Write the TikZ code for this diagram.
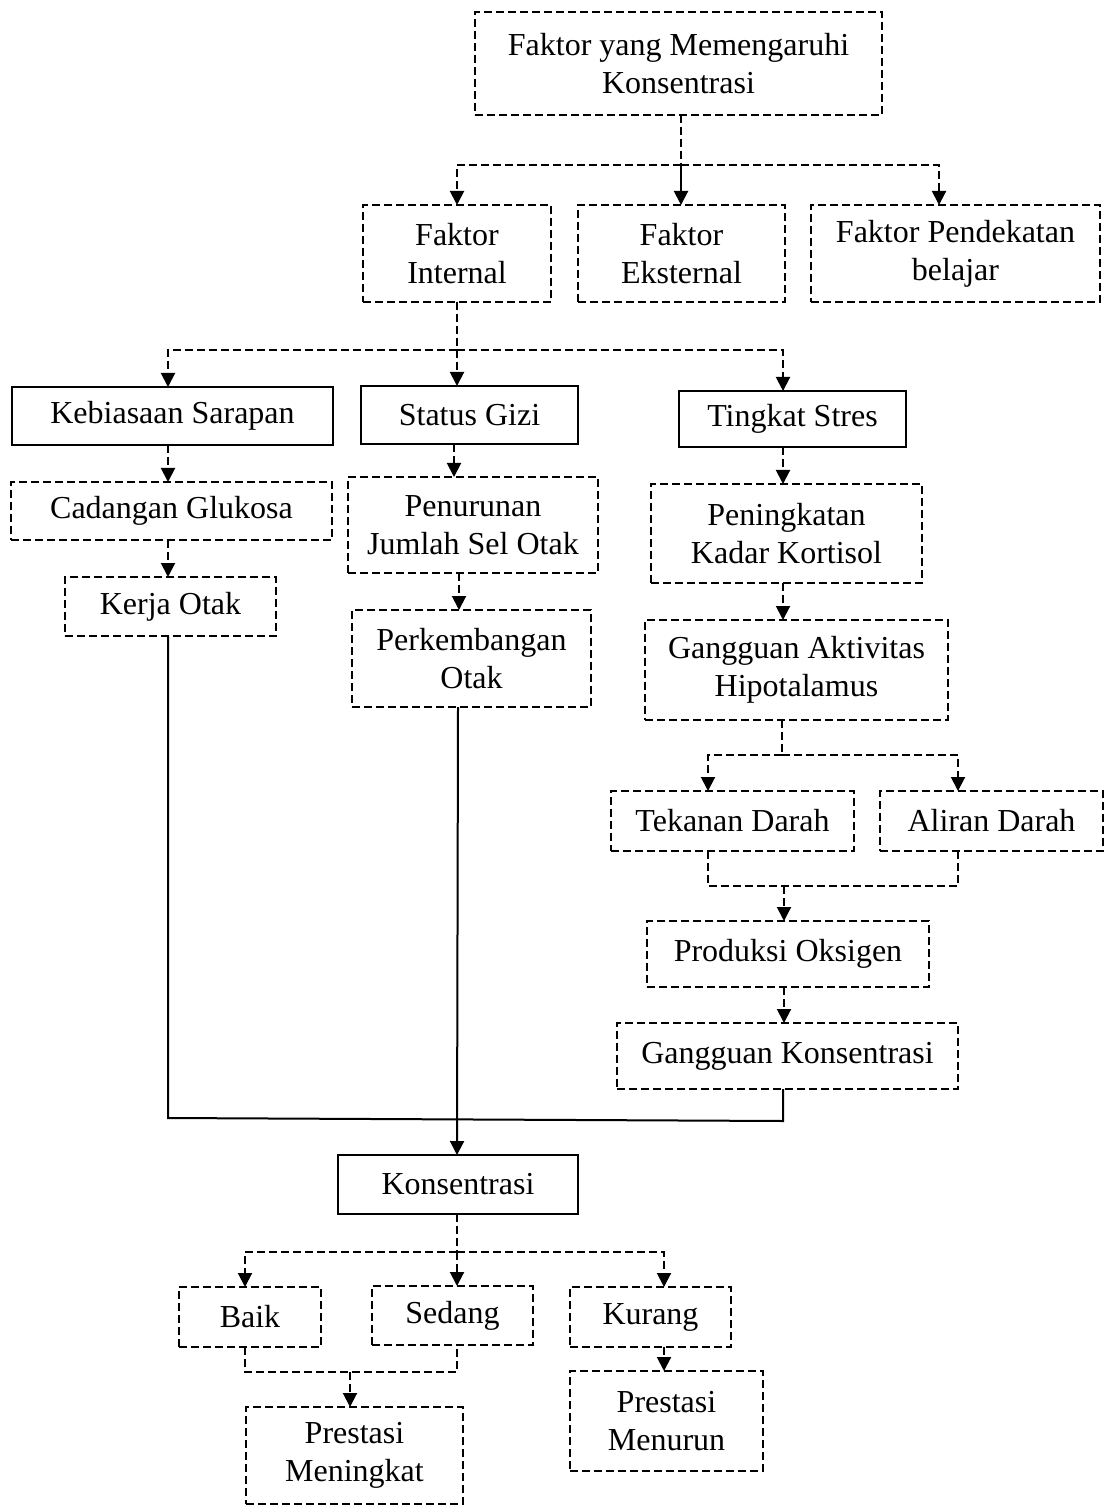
\documentclass[tikz,border=0pt]{standalone}
\usepackage{fontspec}
\setmainfont{Liberation Serif}
\usetikzlibrary{arrows.meta}
\begin{document}
\begin{tikzpicture}[x=0.5pt,y=-0.5pt,
  every node/.style={font=\fontsize{16}{19}\selectfont, align=center, inner sep=0pt, outer sep=0pt},
  dbox/.style={draw, line width=1pt, dash pattern=on 4pt off 2pt, rectangle},
  sbox/.style={draw, line width=1pt, rectangle},
  dline/.style={line width=1pt, dash pattern=on 4pt off 2pt},
  sline/.style={line width=1pt},
  tip/.style={-{Triangle[length=7pt,width=7pt]}}
]
\useasboundingbox (0,0) rectangle (1106,1507);
% nodes
\node[dbox, minimum width=203.5pt, minimum height=51.5pt] (top) at (678.5,63.5) {Faktor yang Memengaruhi\\Konsentrasi};
\node[dbox, minimum width=94pt, minimum height=48.5pt] (fint) at (457,253.5) {Faktor\\Internal};
\node[dbox, minimum width=103.5pt, minimum height=48.5pt] (fext) at (681.5,253.5) {Faktor\\Eksternal};
\node[dbox, minimum width=144.5pt, minimum height=48.5pt] (fpen) at (955.5,253.5) {Faktor Pendekatan\\belajar};
\node[sbox, minimum width=160.5pt, minimum height=29pt] (kebi) at (172.5,416) {Kebiasaan Sarapan};
\node[sbox, minimum width=108.5pt, minimum height=29pt] (gizi) at (469.5,415) {Status Gizi};
\node[sbox, minimum width=113.5pt, minimum height=28pt] (stres) at (792.5,419) {Tingkat Stres};
\node[dbox, minimum width=160.5pt, minimum height=29pt] (cad) at (171.5,511) {Cadangan Glukosa};
\node[dbox, minimum width=105.5pt, minimum height=29.5pt] (kerja) at (170.5,606.5) {Kerja Otak};
\node[dbox, minimum width=125pt, minimum height=48pt] (penu) at (473,525) {Penurunan\\Jumlah Sel Otak};
\node[dbox, minimum width=119.5pt, minimum height=48.5pt] (perk) at (471.5,658.5) {Perkembangan\\Otak};
\node[dbox, minimum width=135.5pt, minimum height=49.5pt] (kort) at (786.5,533.5) {Peningkatan\\Kadar Kortisol};
\node[dbox, minimum width=151.5pt, minimum height=50pt] (hipo) at (796.5,670) {Gangguan Aktivitas\\Hipotalamus};
\node[dbox, minimum width=121.5pt, minimum height=30pt] (tek) at (732.5,821) {Tekanan Darah};
\node[dbox, minimum width=111.5pt, minimum height=30pt] (ali) at (991.5,821) {Aliran Darah};
\node[dbox, minimum width=141pt, minimum height=33pt] (oks) at (788,954) {Produksi Oksigen};
\node[dbox, minimum width=170.5pt, minimum height=33pt] (gkon) at (787.5,1056) {Gangguan Konsentrasi};
\node[sbox, minimum width=120pt, minimum height=29.5pt] (kons) at (458,1184.5) {Konsentrasi};
\node[dbox, minimum width=71pt, minimum height=30pt] (baik) at (250,1317) {Baik};
\node[dbox, minimum width=80.5pt, minimum height=29.5pt] (sed) at (452.5,1315.5) {Sedang};
\node[dbox, minimum width=80.5pt, minimum height=30pt] (kur) at (650.5,1317) {Kurang};
\node[dbox, minimum width=108.5pt, minimum height=48.5pt] (pmen) at (354.5,1455.5) {Prestasi\\Meningkat};
\node[dbox, minimum width=96.5pt, minimum height=50pt] (pmnr) at (666.5,1421) {Prestasi\\Menurun};
% connectors: top level
\draw[dline] (681,0 |- top.south) -- (681,165) coordinate (j1);
\draw[dline, tip] (j1) -| (457,0 |- fint.north);
\draw[dline, tip] (j1) -| (939,0 |- fpen.north);
\draw[sline, tip] (j1) -- (681,0 |- fext.north);
% internal
\draw[dline] (fint.south) -- (457,350) coordinate (j2);
\draw[dline, tip] (j2) -| (168,0 |- kebi.north);
\draw[dline, tip] (j2) -- (457,0 |- gizi.north);
\draw[dline, tip] (j2) -| (783,0 |- stres.north);
% left column
\draw[dline, tip] (168,0 |- kebi.south) -- (168,0 |- cad.north);
\draw[dline, tip] (168,0 |- cad.south) -- (168,0 |- kerja.north);
% middle column
\draw[dline, tip] (454,0 |- gizi.south) -- (454,0 |- penu.north);
\draw[dline, tip] (459,0 |- penu.south) -- (459,0 |- perk.north);
% right column
\draw[dline, tip] (783,0 |- stres.south) -- (783,0 |- kort.north);
\draw[dline, tip] (783,0 |- kort.south) -- (783,0 |- hipo.north);
\draw[dline] (782,0 |- hipo.south) -- (782,755) coordinate (j3);
\draw[dline, tip] (j3) -| (708,0 |- tek.north);
\draw[dline, tip] (j3) -| (958,0 |- ali.north);
\draw[dline] (708,0 |- tek.south) -- (708,886) -- (958,886) -- (958,0 |- ali.south);
\draw[dline, tip] (784,886) -- (784,0 |- oks.north);
\draw[dline, tip] (784,0 |- oks.south) -- (784,0 |- gkon.north);
% merge to Konsentrasi
\draw[sline] (783,0 |- gkon.south) -- (783,1121) -- (168,1118) -- (168,0 |- kerja.south);
\draw[sline, tip] (458,0 |- perk.south) -- (457,0 |- kons.north);
% bottom
\draw[dline] (457,0 |- kons.south) -- (457,1252) coordinate (j4);
\draw[dline, tip] (j4) -| (245,0 |- baik.north);
\draw[dline, tip] (j4) -- (457,0 |- sed.north);
\draw[dline, tip] (j4) -| (664,0 |- kur.north);
\draw[dline] (245,0 |- baik.south) -- (245,1372) -- (457,1372) -- (457,0 |- sed.south);
\draw[dline, tip] (350,1372) -- (350,0 |- pmen.north);
\draw[dline, tip] (664,0 |- kur.south) -- (664,0 |- pmnr.north);
\end{tikzpicture}
\end{document}
